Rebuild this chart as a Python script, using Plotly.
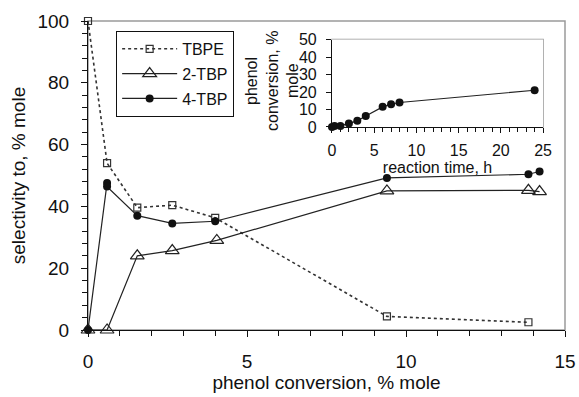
import plotly.graph_objects as go

# Main plot data (phenol conversion, % mole vs selectivity, % mole)
tbpe_x = [0.0, 0.6, 1.55, 2.65, 4.0, 9.4, 13.85]
tbpe_y = [100.0, 54.0, 39.6, 40.4, 36.3, 4.4, 2.5]

tbp2_x = [0.0, 0.6, 1.55, 2.65, 4.05, 9.4, 13.85, 14.2]
tbp2_y = [0.0, 0.0, 24.0, 25.7, 29.0, 45.0, 45.2, 44.8]

tbp4_x = [0.0, 0.6, 0.6, 1.55, 2.65, 4.0, 9.4, 13.85, 14.2]
tbp4_y = [0.0, 47.6, 46.4, 37.0, 34.5, 35.2, 49.2, 50.4, 51.3]

# Inset data (reaction time, h vs phenol conversion, % mole)
ins_x = [0.0, 0.3, 1.0, 2.0, 3.0, 4.0, 6.0, 7.0, 8.0, 24.0]
ins_y = [0.0, 0.5, 0.6, 2.0, 3.5, 6.3, 11.5, 13.0, 14.0, 21.0]

# Inset y-axis title lines
inset_title_lines = ["phenol", "conversion, %", "mole"]

FONT = "Liberation Sans, Arial, sans-serif"

fig = go.Figure()
fig.add_trace(go.Scatter(
    x=tbpe_x, y=tbpe_y, name="TBPE", mode="lines+markers", cliponaxis=False,
    line=dict(color="#333333", width=1.6, dash="dot"),
    marker=dict(symbol="square-open", size=7, color="#333333", line=dict(width=1.2)),
    legendgroup="a"))
fig.add_trace(go.Scatter(
    x=tbp2_x, y=tbp2_y, name="2-TBP", mode="lines+markers", cliponaxis=False,
    line=dict(color="#222222", width=1.2),
    marker=dict(symbol="triangle-up-open", size=12, color="#222222", line=dict(width=1.2)),
    legendgroup="b"))
fig.add_trace(go.Scatter(
    x=tbp4_x, y=tbp4_y, name="4-TBP", mode="lines+markers", cliponaxis=False,
    line=dict(color="#222222", width=1.2),
    marker=dict(symbol="circle", size=8, color="#111111"),
    legendgroup="c"))
fig.add_trace(go.Scatter(
    x=ins_x, y=ins_y, mode="lines+markers", showlegend=False, cliponaxis=False,
    line=dict(color="#222222", width=1.2),
    marker=dict(symbol="circle", size=8, color="#111111"),
    xaxis="x2", yaxis="y2"))

# inset domain (paper coordinates of main plot area)
ix0, ix1 = 0.5115, 0.954
iy0, iy1 = 0.657, 0.940

line_px = [251, 272, 292]
annotations = [
    dict(text=t, xref="paper", yref="paper",
         x=(px - 88) / 477, y=(330 - 81) / 309, xanchor="center", yanchor="middle",
         textangle=-90, showarrow=False, font=dict(size=16, family=FONT))
    for t, px in zip(inset_title_lines, line_px)
]

fig.update_layout(
    width=579, height=397,
    margin=dict(l=88, r=14, t=21, b=67),
    paper_bgcolor="white", plot_bgcolor="white",
    font=dict(family=FONT, color="#111111", size=19),
    showlegend=True,
    legend=dict(x=0.059, y=0.968, xanchor="left", yanchor="top",
                bordercolor="#111111", borderwidth=1, bgcolor="white",
                font=dict(size=16, family=FONT), tracegroupgap=1,
                itemwidth=55),
    xaxis=dict(range=[0, 15], dtick=5, tick0=0, showgrid=False, zeroline=False,
               automargin=False,
               showline=True, linecolor="#111111", linewidth=1.2,
               ticks="outside", ticklen=6, tickcolor="#111111",
               minor=dict(dtick=1, ticks="outside", ticklen=5, tickcolor="#111111"),
               ticklabelstandoff=8,
               tickfont=dict(size=19),
               title=dict(text="phenol conversion, % mole", font=dict(size=19), standoff=4)),
    yaxis=dict(range=[0, 100], dtick=20, tick0=0, showgrid=False, zeroline=False,
               automargin=False,
               showline=True, linecolor="#111111", linewidth=1.2,
               ticks="outside", ticklen=6, tickcolor="#111111",
               minor=dict(dtick=4, ticks="outside", ticklen=5, tickcolor="#111111"),
               ticklabelstandoff=8,
               tickfont=dict(size=19),
               title=dict(text="selectivity to, % mole", font=dict(size=19), standoff=6)),
    xaxis2=dict(domain=[ix0, ix1], anchor="y2", range=[0, 25], dtick=5, tick0=0,
                automargin=False,
                showgrid=False, zeroline=False, showline=True,
                linecolor="#111111", linewidth=1.2,
                ticks="outside", ticklen=5, tickcolor="#111111",
                minor=dict(dtick=1, ticks="outside", ticklen=4, tickcolor="#111111"),
                tickfont=dict(size=16), ticklabelstandoff=4,
                title=dict(text="reaction time, h", font=dict(size=16), standoff=0)),
    yaxis2=dict(domain=[iy0, iy1], anchor="x2", range=[0, 50], dtick=10, tick0=0,
                automargin=False,
                showgrid=False, zeroline=False, showline=True,
                linecolor="#111111", linewidth=1.2,
                ticks="outside", ticklen=5, tickcolor="#111111",
                tickfont=dict(size=16), ticklabelstandoff=6),
    shapes=[
        dict(type="rect", xref="paper", yref="paper", x0=0, x1=1, y0=0, y1=1,
             line=dict(color="#9a9a9a", width=1.5), layer="below"),
        dict(type="rect", xref="x2 domain", yref="y2 domain", x0=0, x1=1, y0=0, y1=1,
             line=dict(color="#9a9a9a", width=1.5), layer="below"),
    ],
    annotations=annotations,
)

fig.write_html("out.html")
